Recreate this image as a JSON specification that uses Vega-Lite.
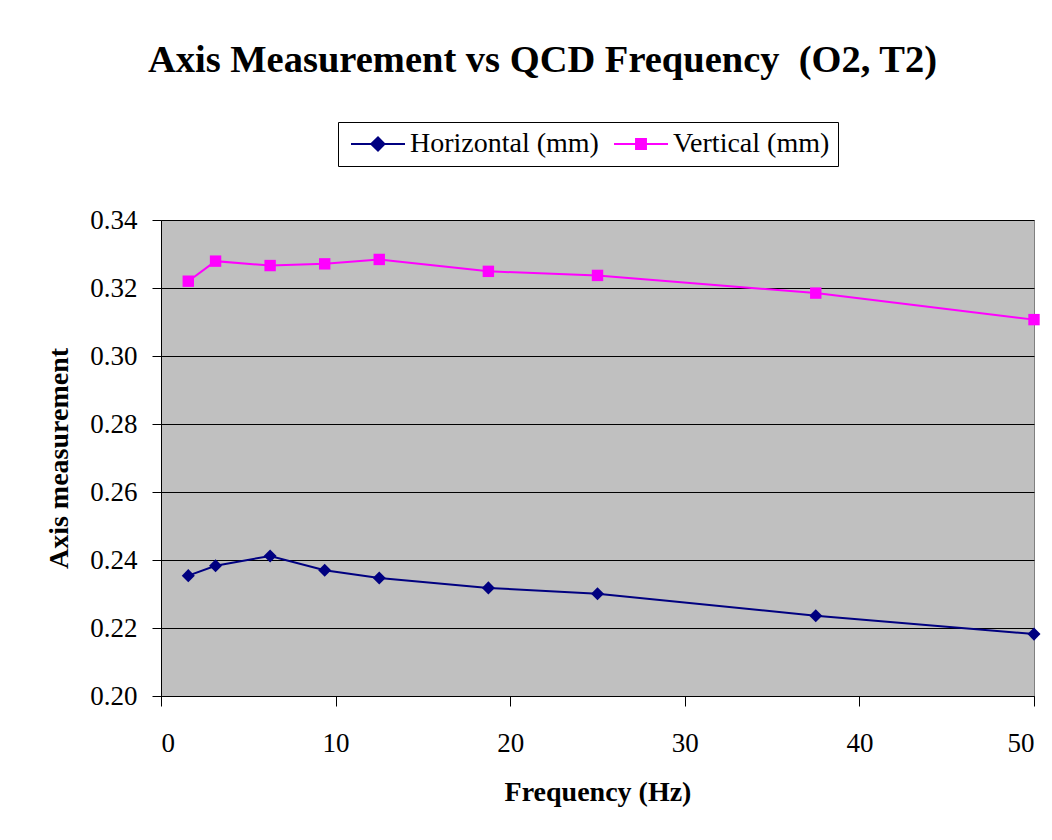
{
  "$schema": "https://vega.github.io/schema/vega-lite/v6.json",
  "autosize": "none",
  "width": 873,
  "height": 476,
  "padding": {"left": 161, "top": 220, "right": 18, "bottom": 144},
  "background": "white",
  "title": {
    "text": "Axis Measurement vs QCD Frequency \u00a0(O2, T2)",
    "font": "Liberation Serif",
    "fontSize": 38.5,
    "fontWeight": "bold",
    "color": "black",
    "anchor": "middle",
    "frame": "group",
    "baseline": "alphabetic",
    "dx": -55,
    "offset": 11
  },
  "data": {
    "values": [
      {"freq": 1.5625, "series": "Horizontal (mm)", "value": 0.2354},
      {"freq": 3.125, "series": "Horizontal (mm)", "value": 0.2383},
      {"freq": 6.25, "series": "Horizontal (mm)", "value": 0.2412},
      {"freq": 9.375, "series": "Horizontal (mm)", "value": 0.2370},
      {"freq": 12.5, "series": "Horizontal (mm)", "value": 0.2347},
      {"freq": 18.75, "series": "Horizontal (mm)", "value": 0.2318},
      {"freq": 25, "series": "Horizontal (mm)", "value": 0.2301},
      {"freq": 37.5, "series": "Horizontal (mm)", "value": 0.2236},
      {"freq": 50, "series": "Horizontal (mm)", "value": 0.2182},
      {"freq": 1.5625, "series": "Vertical (mm)", "value": 0.3220},
      {"freq": 3.125, "series": "Vertical (mm)", "value": 0.3279},
      {"freq": 6.25, "series": "Vertical (mm)", "value": 0.3266},
      {"freq": 9.375, "series": "Vertical (mm)", "value": 0.3271},
      {"freq": 12.5, "series": "Vertical (mm)", "value": 0.3284},
      {"freq": 18.75, "series": "Vertical (mm)", "value": 0.3249},
      {"freq": 25, "series": "Vertical (mm)", "value": 0.3237},
      {"freq": 37.5, "series": "Vertical (mm)", "value": 0.3185},
      {"freq": 50, "series": "Vertical (mm)", "value": 0.3107}
    ]
  },
  "encoding": {
    "x": {
      "field": "freq",
      "type": "quantitative",
      "scale": {"domain": [0, 50], "nice": false},
      "axis": {
        "title": "Frequency (Hz)",
        "values": [0, 10, 20, 30, 40, 50],
        "format": "d",
        "grid": false,
        "tickSize": 10,
        "labelPadding": 24,
        "titlePadding": 22
      }
    },
    "y": {
      "field": "value",
      "type": "quantitative",
      "scale": {"domain": [0.2, 0.34], "nice": false, "zero": false},
      "axis": {
        "title": "Axis measurement",
        "values": [0.2, 0.22, 0.24, 0.26, 0.28, 0.3, 0.32, 0.34],
        "format": ".2f",
        "grid": true,
        "tickSize": 9,
        "labelPadding": 15,
        "titlePadding": 16
      }
    },
    "color": {
      "field": "series",
      "type": "nominal",
      "scale": {"domain": ["Horizontal (mm)", "Vertical (mm)"], "range": ["#000080", "#FF00FF"]},
      "legend": {
        "title": null,
        "orient": "none",
        "legendX": 177,
        "legendY": -98,
        "direction": "horizontal",
        "symbolSize": 324,
        "labelOffset": 36,
        "columnPadding": 10,
        "encode": {
          "symbols": {
            "update": {
              "stroke": {"scale": "color", "field": "value"},
              "strokeWidth": {"value": 2},
              "opacity": {"value": 1}
            }
          }
        }
      }
    }
  },
  "layer": [
    {
      "mark": {"type": "line", "strokeWidth": 2}
    },
    {
      "transform": [{"filter": "datum.series === 'Horizontal (mm)'"}],
      "mark": {"type": "point", "filled": true, "opacity": 1, "size": 170, "shape": "diamond"}
    },
    {
      "transform": [{"filter": "datum.series === 'Vertical (mm)'"}],
      "mark": {"type": "point", "filled": true, "opacity": 1, "size": 130, "shape": "square"}
    },
    {
      "mark": {"type": "point", "filled": true, "size": 0},
      "encoding": {
        "shape": {
          "field": "series",
          "type": "nominal",
          "scale": {
            "domain": ["Horizontal (mm)", "Vertical (mm)"],
            "range": [
              "M-1,0H1.25M1.25,0L2,-0.72L2.72,0L2,0.72ZM2.72,0H5",
              "M-1,0H1.45M1.45,-0.55H2.55V0.55H1.45ZM2.55,0H5"
            ]
          },
          "legend": {
            "title": null,
            "orient": "none",
            "legendX": 177,
            "legendY": -98,
            "direction": "horizontal",
            "symbolSize": 324,
            "labelOffset": 36,
            "columnPadding": 10
          }
        }
      }
    }
  ],
  "config": {
    "view": {"fill": "#C0C0C0", "stroke": "#808080", "strokeWidth": 1},
    "axis": {
      "domainColor": "black",
      "domainWidth": 1,
      "tickColor": "black",
      "tickWidth": 1,
      "gridColor": "black",
      "gridWidth": 1,
      "gridOpacity": 1,
      "labelFont": "Liberation Serif",
      "labelFontSize": 27,
      "labelColor": "black",
      "titleFont": "Liberation Serif",
      "titleFontSize": 28,
      "titleFontWeight": "bold",
      "titleColor": "black"
    },
    "legend": {
      "labelFont": "Liberation Serif",
      "labelFontSize": 28,
      "labelColor": "black",
      "strokeColor": "black",
      "fillColor": "white",
      "padding": 8,
      "labelLimit": 400
    }
  }
}
